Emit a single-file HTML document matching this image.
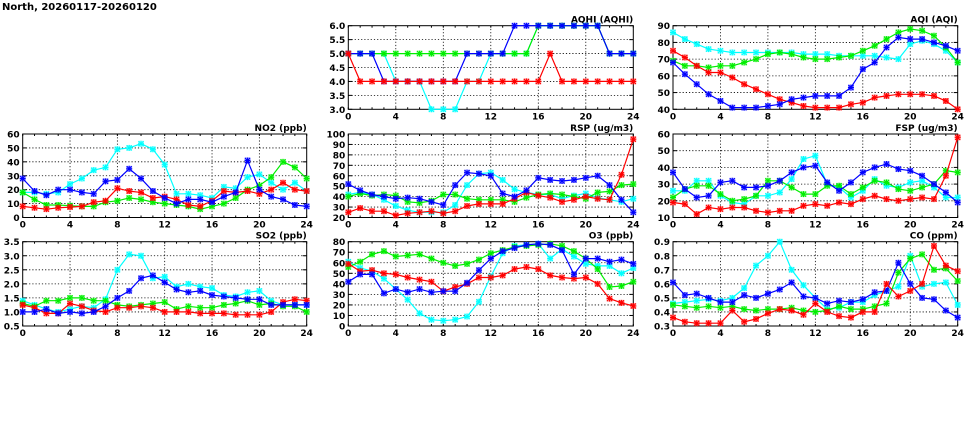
<!DOCTYPE html>
<html><head><meta charset="utf-8"><style>
html,body{margin:0;padding:0;background:#fff;width:975px;height:447px;overflow:hidden}
svg text{font-family:"DejaVu Sans","Liberation Sans",sans-serif;font-weight:bold;font-size:9px;fill:#000}
</style></head><body>
<svg id="s" width="975" height="447" xmlns="http://www.w3.org/2000/svg">
<text x="2" y="10" style="font-size:10px">North, 20260117-20260120</text>
</svg>
<script>
const S=document.getElementById('s');let h='';
const cols=[[22.7,306.7],[348.3,633.3],[673,957.7]];
const rows=[[25.7,109.3],[134,217.5],[241.7,326]];
const C={c:'#00ffff',g:'#00ee00',r:'#ff0000',b:'#0000ff'};
function panel(ci,ri,title,ymin,ymax,step,dec,series,order){
 const [x0,x1]=cols[ci],[y0,y1]=rows[ri];
 const X=t=>x0+(x1-x0)*t/24, Y=v=>y1-(y1-y0)*(v-ymin)/(ymax-ymin);
 h+=`<rect x="${x0}" y="${y0}" width="${x1-x0}" height="${y1-y0}" fill="#fff" stroke="#000" stroke-width="1"/>`;
 for(let v=ymin;v<=ymax+1e-9;v+=step){const y=Y(v);
  if(v>ymin+1e-9&&v<ymax-1e-9)h+=`<line x1="${x0}" x2="${x1}" y1="${y}" y2="${y}" stroke="#000" stroke-width="0.8" stroke-dasharray="1.2,2"/>`;
  h+=`<text x="${x0-3}" y="${y+3.5}" text-anchor="end">${v.toFixed(dec)}</text>`;
  h+=`<line x1="${x0}" x2="${x0+4}" y1="${y}" y2="${y}" stroke="#000"/><line x1="${x1-4}" x2="${x1}" y1="${y}" y2="${y}" stroke="#000"/>`;}
 for(let t=0;t<=24;t+=4){const x=X(t);
  if(t>0&&t<24)h+=`<line x1="${x}" x2="${x}" y1="${y0}" y2="${y1}" stroke="#000" stroke-width="0.8" stroke-dasharray="1.2,2"/>`;
  h+=`<text x="${x}" y="${y1+10}" text-anchor="middle">${t}</text>`;}
 for(let t=0;t<=24;t++){const x=X(t);h+=`<line x1="${x}" x2="${x}" y1="${y1}" y2="${y1-2}" stroke="#000"/><line x1="${x}" x2="${x}" y1="${y0}" y2="${y0+2}" stroke="#000"/>`;}
 h+=`<text x="${x1}" y="${y0-3}" text-anchor="end">${title}</text>`;
 h+=`<g>`;
 for(const k of order){const d=series[k];
  const pts=d.map((v,i)=>[X(i),Math.max(y0,Math.min(y1,Y(v)))]);
  h+=`<polyline fill="none" stroke="${C[k]}" stroke-width="1.2" points="${pts.map(p=>p[0].toFixed(1)+','+p[1].toFixed(1)).join(' ')}"/>`;
  for(const [x,y] of pts){h+=`<path d="M${x-2.5},${y-2.5}L${x+2.5},${y+2.5}M${x-2.5},${y+2.5}L${x+2.5},${y-2.5}M${x-3},${y}H${x+3}M${x},${y-3}V${y+3}" stroke="${C[k]}" stroke-width="1.1"/><rect x="${x-2.5}" y="${y-2.5}" width="5" height="5" fill="none" stroke="${C[k]}" stroke-opacity="0.5" stroke-width="0.8"/>`;}
 }
 h+=`</g>`;
}
panel(0,1,'NO2 (ppb)',0,60,10,0,{
c:[18,18,17,18,24,28,34,36,49,50,53,49,38,17,17,16,14,22,21,29,31,25,20,25,19],
b:[28,19,16,20,20,18,17,26,27,35,28,19,14,10,13,13,11,15,18,41,20,15,13,9,8],
r:[8,7,6,7,7.5,8,11,12,21,19,18,14,15,13,9,8,12,19,18,19,17,20,25,20,19],
g:[18,13,9,9,8.5,8,8,11,12,14,13,11,10,9,8,6,8,10,14,20,23,29,40,36,28]},['c','g','r','b']);
panel(0,2,'SO2 (ppb)',0.5,3.5,0.5,1,{
c:[1.4,1.25,1.1,1.0,1.1,1.2,1.15,1.45,2.5,3.05,3.0,2.2,2.25,1.9,2.0,1.9,1.85,1.6,1.55,1.7,1.75,1.4,1.25,1.25,1.25],
b:[1.0,1.0,1.1,0.95,1.0,0.95,1.0,1.2,1.5,1.75,2.2,2.3,2.05,1.8,1.7,1.75,1.6,1.55,1.5,1.45,1.45,1.25,1.25,1.25,1.25],
g:[1.3,1.2,1.4,1.4,1.5,1.5,1.4,1.4,1.25,1.2,1.25,1.3,1.35,1.1,1.2,1.15,1.15,1.25,1.3,1.4,1.25,1.3,1.2,1.2,1.0],
r:[1.25,1.15,0.95,0.95,1.3,1.2,1.05,1.0,1.15,1.15,1.2,1.15,1.0,1.0,1.0,0.95,0.95,0.95,0.9,0.9,0.9,1.0,1.35,1.45,1.4]},['c','g','r','b']);
panel(1,0,'AQHI (AQHI)',3,6,0.5,1,{
c:[5,5,5,5,4,4,4,3,3,3,4,4,5,5,5,5,6,6,6,6,6,6,5,5,5],
g:[5,5,5,5,5,5,5,5,5,5,5,5,5,5,5,5,6,6,6,6,6,6,5,5,5],
r:[5,4,4,4,4,4,4,4,4,4,4,4,4,4,4,4,4,5,4,4,4,4,4,4,4],
b:[5,5,5,4,4,4,4,4,4,4,5,5,5,5,6,6,6,6,6,6,6,6,5,5,5]},['c','g','b','r']);
panel(1,1,'RSP (ug/m3)',20,100,10,0,{
b:[52,46,42,40,38,39,38,35,32,51,63,62,60,43,40,46,58,56,55,56,58,60,51,37,25],
c:[42,44,42,37,31,27,25,25,25,32,51,62,63,56,47,44,42,42,38,41,43,39,37,35,38],
g:[40,43,41,42,41,35,34,36,42,42,38,37,37,37,35,39,42,43,42,40,38,44,45,51,52],
r:[25,29,26,26,22,24,25,26,24,26,31,33,33,33,38,44,41,39,35,37,40,38,37,61,95]},['c','g','r','b']);
panel(1,2,'O3 (ppb)',0,80,10,0,{
c:[61,55,52,45,35,25,12,6,5,6,9,23,47,69,76,77,78,64,73,66,59,57,57,50,55],
b:[42,49,49,31,35,32,35,32,33,33,41,53,64,71,74,77,78,77,72,49,64,64,61,63,59],
g:[56,61,68,71,66,67,68,64,60,57,59,63,69,72,75,76,77,78,76,71,64,54,37,38,42],
r:[59,52,53,50,49,46,44,42,33,37,40,46,46,48,54,56,54,48,46,45,46,40,26,22,19]},['c','g','r','b']);
panel(2,0,'AQI (AQI)',40,90,10,0,{
c:[86,82,79,76,75,74,74,74,74,74,74,73,73,73,72,72,72,72,71,70,79,81,79,75,68],
g:[69,66,66,65,66,66,68,70,73,74,73,71,70,70,71,72,75,78,82,86,88,87,84,77,68],
b:[68,61,55,49,45,41,41,41,42,43,46,47,48,48,48,53,64,68,77,83,82,82,80,78,75],
r:[75,71,66,62,62,59,55,52,49,46,44,42,41,41,41,43,44,47,48,49,49,49,48,45,40]},['c','g','r','b']);
panel(2,1,'FSP (ug/m3)',10,60,10,0,{
b:[37,27,22,23,31,32,28,28,29,32,37,40,41,31,26,31,37,40,42,39,38,35,30,25,19],
c:[26,26,32,32,23,19,18,23,23,25,33,45,47,30,28,22,26,33,29,28,31,32,28,22,22],
g:[22,27,29,29,24,20,21,23,32,32,28,24,24,29,29,24,28,32,31,27,26,28,30,38,37],
r:[19,18,12,16,15,16,16,14,13,14,14,17,18,17,19,18,21,23,21,20,21,22,21,35,58]},['c','g','r','b']);
panel(2,2,'CO (ppm)',0.3,0.9,0.1,1,{
c:[.46,.47,.48,.49,.48,.5,.57,.73,.8,.9,.7,.59,.5,.42,.43,.47,.47,.52,.55,.58,.8,.58,.6,.61,.45],
b:[.61,.52,.53,.5,.47,.47,.52,.5,.53,.56,.61,.51,.5,.46,.48,.47,.49,.54,.55,.75,.6,.5,.49,.41,.36],
g:[.45,.44,.43,.44,.43,.44,.42,.41,.42,.42,.43,.41,.4,.41,.44,.42,.42,.44,.46,.68,.78,.81,.7,.71,.62],
r:[.36,.33,.32,.32,.32,.41,.33,.35,.39,.42,.41,.38,.46,.4,.37,.36,.4,.4,.6,.51,.55,.6,.87,.73,.69]},['c','g','b','r']);
S.insertAdjacentHTML('beforeend',h);
</script>
</body></html>
